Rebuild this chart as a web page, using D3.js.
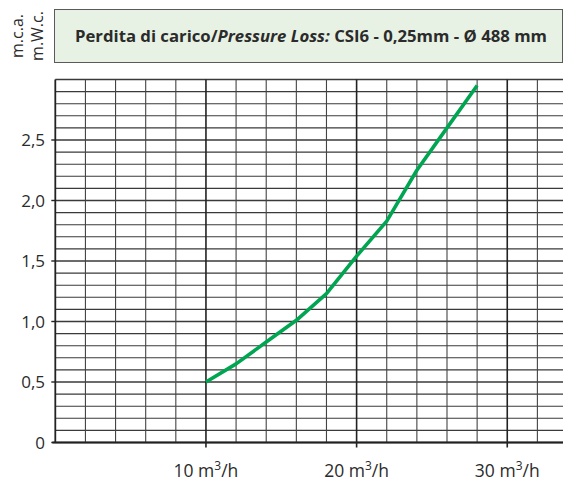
<!DOCTYPE html>
<html>
<head>
<meta charset="utf-8">
<script src="https://cdn.jsdelivr.net/npm/d3@7"></script>
<style>
  body { margin: 0; background: #fff; }
  svg { display: block; font-family: "Open Sans", "DejaVu Sans", sans-serif; }
</style>
</head>
<body>
<div id="chart"></div>
<script>
// flow (m3/h) and pressure loss (m.c.a.)
let flow = [10, 12, 14, 16, 18, 20, 22, 24, 26, 28];
let loss = [0.50, 0.65, 0.83, 1.01, 1.23, 1.54, 1.83, 2.25, 2.60, 2.95];

let yTicks = [0, 0.5, 1.0, 1.5, 2.0, 2.5];
let yTickLabels = ["0", "0,5", "1,0", "1,5", "2,0", "2,5"];
let xTicks = [10, 20, 30];
let unitLabels = ["m.c.a.", "m.W.c."];

let width = 563, height = 483;

let svg = d3.select("#chart").append("svg")
    .attr("width", width)
    .attr("height", height);

let x = d3.scaleLinear().domain([0, 33.7]).range([55.3, 563]);
let y = d3.scaleLinear().domain([0, 3]).range([442.5, 79.5]);

// title box
svg.append("rect")
    .attr("x", 54.5).attr("y", 9.5)
    .attr("width", 508).attr("height", 53)
    .attr("fill", "#e7f2e4")
    .attr("stroke", "#5a5a5a")
    .attr("stroke-width", 1);

let title = svg.append("text")
    .attr("x", 75).attr("y", 42)
    .attr("font-size", 16)
    .attr("font-weight", "bold")
    .attr("textLength", 472)
    .attr("lengthAdjust", "spacingAndGlyphs")
    .attr("fill", "#2b2b2b");
title.append("tspan").text("Perdita di carico/");
title.append("tspan").attr("font-style", "italic").text("Pressure Loss:");
title.append("tspan").text(" CSI6 - 0,25mm - Ø 488 mm");

// unit labels (rotated)
svg.selectAll("text.unit")
    .data(unitLabels)
    .enter().append("text")
    .attr("class", "unit")
    .attr("transform", (d, i) => "translate(" + (23 + i * 20) + ",36) rotate(-90)")
    .attr("text-anchor", "middle")
    .attr("font-size", 16)
    .attr("fill", "#2b2b2b")
    .text(d => d);

// grid
let grid = svg.append("g");
let hLines = d3.range(0, 31).map(d => d / 10);
grid.selectAll("line.h")
    .data(hLines)
    .enter().append("line")
    .attr("x1", x(0)).attr("x2", width)
    .attr("y1", d => y(d)).attr("y2", d => y(d))
    .attr("stroke", "#3a3a3a")
    .attr("stroke-width", d => (Math.round(d * 10) % 5 === 0) ? 1.4 : 1.1);

let vLines = d3.range(2, 34, 2);
grid.selectAll("line.v")
    .data(vLines)
    .enter().append("line")
    .attr("x1", d => x(d)).attr("x2", d => x(d))
    .attr("y1", y(3)).attr("y2", y(0))
    .attr("stroke", d => d % 10 === 0 ? "#222" : "#444")
    .attr("stroke-width", d => d % 10 === 0 ? 1.6 : 1.1);

// axes frame
svg.append("line")
    .attr("x1", x(0)).attr("x2", x(0))
    .attr("y1", y(3)).attr("y2", y(0))
    .attr("stroke", "#222").attr("stroke-width", 1.8);
svg.append("line")
    .attr("x1", x(0) - 3).attr("x2", width)
    .attr("y1", y(0)).attr("y2", y(0))
    .attr("stroke", "#222").attr("stroke-width", 1.8);

// y ticks
let yAxis = svg.append("g");
yAxis.selectAll("line")
    .data(yTicks)
    .enter().append("line")
    .attr("x1", x(0) - 4).attr("x2", x(0))
    .attr("y1", d => y(d)).attr("y2", d => y(d))
    .attr("stroke", "#222").attr("stroke-width", 1.4);
yAxis.selectAll("text")
    .data(yTicks)
    .enter().append("text")
    .attr("x", 45)
    .attr("y", d => y(d) + 6)
    .attr("text-anchor", "end")
    .attr("font-size", 17)
    .attr("fill", "#2b2b2b")
    .text((d, i) => yTickLabels[i]);

// x ticks
let xAxis = svg.append("g");
xAxis.selectAll("line")
    .data(xTicks)
    .enter().append("line")
    .attr("x1", d => x(d)).attr("x2", d => x(d))
    .attr("y1", y(0)).attr("y2", y(0) + 5)
    .attr("stroke", "#222").attr("stroke-width", 1.6);
let xl = xAxis.selectAll("text")
    .data(xTicks)
    .enter().append("text")
    .attr("x", d => x(d))
    .attr("y", 477)
    .attr("text-anchor", "middle")
    .attr("font-size", 17.5)
    .attr("fill", "#2b2b2b");
xl.append("tspan").text(d => d + " m");
xl.append("tspan").attr("font-size", 12).attr("dy", -7).text("3");
xl.append("tspan").attr("dy", 7).text("/h");

// curve
let line = d3.line()
    .x(d => x(d[0]))
    .y(d => y(d[1]));
svg.append("path")
    .datum(flow.map((f, i) => [f, loss[i]]))
    .attr("d", line)
    .attr("fill", "none")
    .attr("stroke", "#00a551")
    .attr("stroke-width", 3.6)
    .attr("stroke-linejoin", "round");
</script>
</body>
</html>
